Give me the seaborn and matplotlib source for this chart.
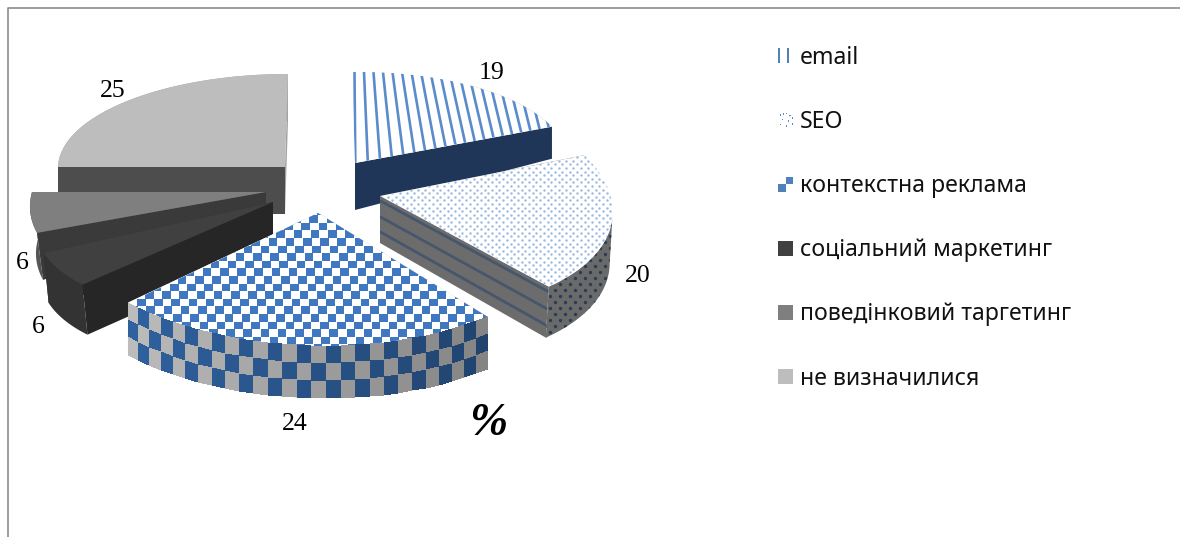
import numpy as np
import matplotlib
matplotlib.use("Agg")
import matplotlib.pyplot as plt
import seaborn as sns
from matplotlib.colors import ListedColormap
from matplotlib.legend_handler import HandlerBase
from matplotlib.patches import Patch, Rectangle
from matplotlib.transforms import Affine2D

# ---- data ----
categories = ["email", "SEO", "контекстна реклама", "соціальний маркетинг",
              "поведінковий таргетинг", "не визначилися"]
values = [19, 20, 24, 6, 6, 25]
unit_label = "%"

# ---- style ----
sns.set_theme(style="white")
plt.rcParams["font.family"] = ["Noto Sans", "DejaVu Sans"]
top_colors = sns.color_palette(["#ffffff", "#ffffff", "#ffffff", "#404040", "#7f7f7f", "#bdbdbd"])
start_face_colors = ["#ffffff", "#6c6c6c", "#8a8a8a", "#262626", "#3a3a3a", "#4d4d4d"]
end_face_colors = ["#1f3658", "#6c6c6c", "#8a8a8a", "#2e2e2e", "#4a4a4a", "#a3a3a3"]
rim_colors = ["#b8b8b8", "#6a6a6a", "#8a8a8a", "#333333", "#555555", "#a3a3a3"]
swatch_colors = ["#4f81bd", "#4f81bd", "#4f81bd", "#404040", "#7f7f7f", "#bdbdbd"]
BLUE = "#3f78c0"

# ---- layout: projection of each exploded slice, in figure pixels ----
apex = [(355, 163), (380, 196), (318, 213), (273, 202), (266, 192), (285, 167)]
u_axis = [(213, -3), (231, 2), (263, 2), (236, -12), (234, 0), (227, 0)]
v_axis = [(-3, -91), (-28, -116), (-2.5, -133), (27, -108), (31, -111), (3, -93)]
depth_apex = [47, 47, 52, 50, 20, 47]
depth_rim = [32, 51, 52, 50, 47, 47]
rim_drift = [0, -3, 0, 5, 6, 0]
rim_trim = [0.5, 0.40, 0, 0, 0, 0]
draw_order = [5, 0, 4, 3, 1, 2]
end_face_first = [False, False, False, True, True, True]
label_xy = [(492, 73), (638, 276), (295, 424), (38, 327), (22, 263), (113, 91)]
unit_xy = (488, 424)

fig = plt.figure(figsize=(11.8, 5.37), dpi=100)
ax = fig.add_axes([0, 0, 1, 1])

wedges, _ = ax.pie(values, startangle=90, counterclock=False, radius=1,
                   colors=top_colors, wedgeprops=dict(linewidth=0))
ax.set_aspect("auto")
ax.set_xlim(0, 1180)
ax.set_ylim(537, 0)
ax.axis("off")

edges = np.cumsum([0] + values) / sum(values) * 2 * np.pi


def point(i, theta, r=1.0):
    a, u, v = np.array(apex[i]), np.array(u_axis[i]), np.array(v_axis[i])
    return a + r * (np.sin(theta)[..., None] * u + np.cos(theta)[..., None] * v)


def radial_face(i, theta, color, z):
    p = point(i, np.array(theta))
    a = np.array(apex[i], float)
    xs = [a[0], p[0], p[0] + rim_drift[i], a[0]]
    ys = [a[1], p[1], p[1] + depth_rim[i], a[1] + depth_apex[i]]
    return ax.fill(xs, ys, color=color, lw=0, zorder=z)[0]


def rim_face(i, color, z):
    t0 = edges[i] + rim_trim[i] * (edges[i + 1] - edges[i])
    t = np.linspace(t0, edges[i + 1], 80)
    p = point(i, t)
    xs = np.r_[p[:, 0], p[::-1, 0] + rim_drift[i]]
    ys = np.r_[p[:, 1], p[::-1, 1] + depth_rim[i]]
    return ax.fill(xs, ys, color=color, lw=0, zorder=z)[0]


faces = {}
for rank, i in enumerate(draw_order):
    base = 10 * (rank + 1)
    w = wedges[i]
    w.set_transform(Affine2D.from_values(u_axis[i][0], u_axis[i][1], v_axis[i][0], v_axis[i][1],
                                         apex[i][0], apex[i][1]) + ax.transData)
    w.set_zorder(base + 5)
    w.set_clip_on(False)
    z_start, z_end = (base + 2, base) if end_face_first[i] else (base, base + 2)
    faces[i] = dict(
        start=radial_face(i, edges[i], start_face_colors[i], z_start),
        rim=rim_face(i, rim_colors[i], base + 1),
        end=radial_face(i, edges[i + 1], end_face_colors[i], z_end),
        z=base,
    )

# --- email: fanning vertical stripes on the top surface
z = faces[0]["z"] + 6
for x0 in np.arange(354.5, 570, 9.5):
    slope = 0.25 * np.tanh((x0 - 352) / 70)
    ln, = ax.plot([x0 - 12 * slope, x0 + 138 * slope], [60, 210], color="#5a8ccb", lw=1.9, zorder=z,
                  solid_capstyle="butt")
    ln.set_clip_path(wedges[0])

# --- SEO: dotted top, dotted rim, lined radial face
z = faces[1]["z"] + 6
gx, gy = np.meshgrid(np.arange(370, 625, 7.4), np.arange(150, 295, 3.6))
gx = gx + (np.arange(gy.shape[0]) % 2)[:, None] * 3.7
d = ax.scatter(gx.ravel(), gy.ravel(), s=3.0, color="#98b8e0", lw=0, zorder=z)
d.set_clip_path(wedges[1])
gx, gy = np.meshgrid(np.arange(530, 625, 10.0), np.arange(200, 345, 6.0))
gx = gx + (np.arange(gy.shape[0]) % 2)[:, None] * 5
d = ax.scatter(gx.ravel(), gy.ravel(), s=6, color="#2b3d55", lw=0, zorder=faces[1]["z"] + 3)
d.set_clip_path(faces[1]["rim"])
a1 = np.array(apex[1], float)
p1 = point(1, np.array(edges[2]))
for frac in (0.10, 0.44, 0.76):
    ln, = ax.plot([a1[0], p1[0] + frac * rim_drift[1]],
                  [a1[1] + frac * depth_apex[1], p1[1] + frac * depth_rim[1]],
                  color="#46566d", lw=2.0, zorder=z, solid_capstyle="butt")
    ln.set_clip_path(faces[1]["end"])

# --- contextual: checker top and checker rim
z = faces[2]["z"] + 6
cell_w, cell_h = 8.6, 7.6
gx = np.arange(110, 510, cell_w)
gy = np.arange(200, 360, cell_h)
X, Y = np.meshgrid(gx, gy)
X = X + (Y - 200) * 0.10
C = (np.add.outer(np.arange(len(gy) - 1), np.arange(len(gx) - 1)) % 2).astype(float)
m = ax.pcolormesh(X, Y, C, cmap=ListedColormap(["#ffffff", BLUE]), zorder=z, shading="flat")
m.set_clip_path(wedges[2])

columns, rows = 27, 3
t = np.linspace(edges[2], edges[3], columns + 1)
p = point(2, t)
frac = np.linspace(0, 1, rows + 1)
RX = np.repeat(p[:, 0][None, :], rows + 1, axis=0)
RY = p[:, 1][None, :] + frac[:, None] * depth_rim[2]
check = np.add.outer(np.arange(rows), np.arange(columns)) % 2
shade = np.repeat(np.linspace(0.70, 1.0, columns)[None, :], rows, axis=0)
blue_rgb = np.array(matplotlib.colors.to_rgb("#2f619f"))
gray_rgb = np.array(matplotlib.colors.to_rgb("#bcbcbc"))
rgb = np.where(check[..., None] == 1, blue_rgb, gray_rgb) * shade[..., None]
ax.pcolormesh(RX, RY, rgb, zorder=z, shading="flat")

# --- value labels
for v, (x, y) in zip(values, label_xy):
    ax.text(x, y, str(v), family="Liberation Serif", fontsize=18.5, color="black",
            ha="center", va="center", zorder=200)
ax.text(unit_xy[0], unit_xy[1], unit_label, family="Liberation Serif", fontsize=33,
        fontweight="bold", fontstyle="italic", color="black", ha="center", va="center", zorder=200)

# --- frame (top and left only)
ax.plot([8, 8, 1180], [537, 8, 8], color="#8c8c8c", lw=1.2, zorder=300, clip_on=False)


# --- legend with patterned keys
class KeyHandler(HandlerBase):
    def create_artists(self, legend, handle, xd, yd, width, height, fontsize, trans):
        kind = handle.get_label()
        s = 10.8
        x0, y0 = -xd, -yd + (height - s) / 2
        out = []
        if kind == "lines":
            for f in (0.0, 0.6):
                out.append(Rectangle((x0 + f * s, y0), 0.13 * s, s, fc="#4f81bd", lw=0, transform=trans))
        elif kind == "dots":
            for fx, fy in [(.1, .8), (.5, .9), (.9, .6), (.25, .5), (.65, .4), (.1, .15), (.5, .05), (.9, .2), (.3, .85), (.75, .75)]:
                out.append(Rectangle((x0 + fx * s, y0 + fy * s), .09 * s, .09 * s, fc="#5b8cc4", lw=0, transform=trans))
        elif kind == "check":
            out.append(Rectangle((x0, y0), .5 * s, .5 * s, fc="#4f81bd", lw=0, transform=trans))
            out.append(Rectangle((x0 + .5 * s, y0 + .5 * s), .5 * s, .5 * s, fc="#4f81bd", lw=0, transform=trans))
        else:
            out.append(Rectangle((x0, y0), s, s, fc=handle.get_facecolor(), lw=0, transform=trans))
        return out


kinds = ["lines", "dots", "check", "solid", "solid", "solid"]
handles = [Patch(facecolor=c, label=k) for c, k in zip(swatch_colors, kinds)]
ax.legend(handles, categories, loc="upper left", bbox_to_anchor=(778, 46),
          bbox_transform=ax.transData, frameon=False, fontsize=16.6, borderpad=0, borderaxespad=0,
          labelspacing=1.74, handlelength=0.65, handletextpad=0.3, labelcolor="#111111",
          handler_map={Patch: KeyHandler()})

fig.savefig("out.png", dpi=100)
